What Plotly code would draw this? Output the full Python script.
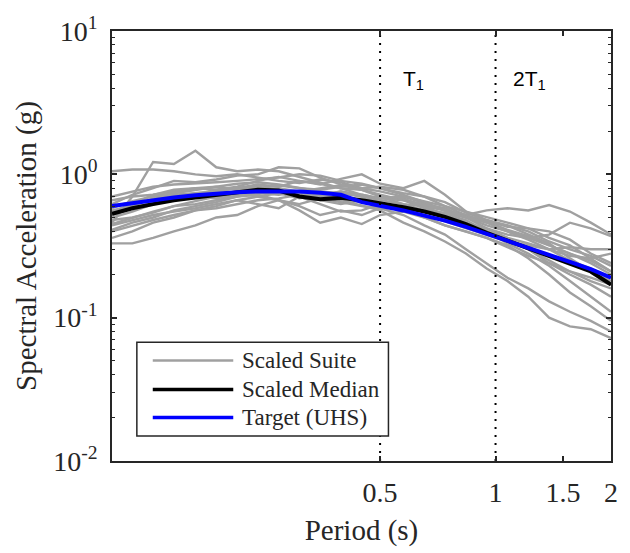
import plotly.graph_objects as go

# ---------------- data ----------------
periods = [0.100, 0.113, 0.128, 0.145, 0.165, 0.187, 0.212, 0.240, 0.272, 0.308,
           0.349, 0.395, 0.448, 0.500, 0.575, 0.652, 0.738, 0.837, 0.948, 1.074,
           1.217, 1.379, 1.563, 1.771, 2.000]

rec01 = [1.05, 1.08, 1.08, 1.05, 1.00, 0.97, 1.00, 0.95, 0.90, 0.87, 0.92, 0.88, 0.80, 0.76, 0.70, 0.63, 0.56, 0.52, 0.47, 0.41, 0.37, 0.32, 0.28, 0.25, 0.21]
rec02 = [0.46, 0.70, 1.22, 1.18, 1.46, 1.12, 1.05, 1.08, 1.05, 0.96, 0.88, 0.80, 0.78, 0.72, 0.66, 0.58, 0.53, 0.48, 0.40, 0.36, 0.33, 0.30, 0.25, 0.22, 0.19]
rec03 = [0.33, 0.33, 0.36, 0.40, 0.44, 0.50, 0.52, 0.60, 0.66, 0.62, 0.68, 0.64, 0.60, 0.58, 0.52, 0.44, 0.38, 0.30, 0.24, 0.19, 0.16, 0.13, 0.11, 0.095, 0.08]
rec04 = [0.62, 0.72, 0.80, 0.90, 0.88, 0.92, 0.98, 1.00, 1.12, 1.10, 0.95, 0.85, 0.80, 0.82, 0.78, 0.70, 0.60, 0.52, 0.46, 0.40, 0.36, 0.32, 0.28, 0.24, 0.20]
rec05 = [0.50, 0.55, 0.62, 0.70, 0.72, 0.78, 0.80, 0.85, 0.82, 0.90, 0.85, 0.93, 1.00, 0.86, 0.80, 0.90, 0.72, 0.55, 0.48, 0.43, 0.42, 0.40, 0.35, 0.28, 0.24]
rec06 = [0.44, 0.48, 0.52, 0.55, 0.58, 0.62, 0.66, 0.62, 0.58, 0.70, 0.62, 0.55, 0.56, 0.62, 0.58, 0.55, 0.50, 0.46, 0.42, 0.38, 0.36, 0.38, 0.46, 0.42, 0.37]
rec07 = [0.58, 0.65, 0.70, 0.74, 0.78, 0.82, 0.86, 0.88, 0.85, 0.80, 0.76, 0.74, 0.70, 0.66, 0.62, 0.60, 0.56, 0.52, 0.56, 0.58, 0.56, 0.61, 0.55, 0.46, 0.38]
rec08 = [0.41, 0.46, 0.50, 0.56, 0.60, 0.64, 0.70, 0.74, 0.72, 0.76, 0.80, 0.84, 0.78, 0.70, 0.62, 0.56, 0.54, 0.50, 0.44, 0.40, 0.35, 0.30, 0.27, 0.26, 0.28]
rec09 = [0.36, 0.40, 0.46, 0.50, 0.56, 0.60, 0.66, 0.70, 0.74, 0.68, 0.72, 0.76, 0.72, 0.68, 0.66, 0.62, 0.58, 0.50, 0.42, 0.36, 0.30, 0.24, 0.20, 0.17, 0.14]
rec10 = [0.66, 0.70, 0.72, 0.76, 0.80, 0.82, 0.78, 0.80, 0.84, 0.80, 0.78, 0.82, 0.85, 0.80, 0.72, 0.64, 0.56, 0.50, 0.46, 0.44, 0.40, 0.34, 0.30, 0.27, 0.23]
rec11 = [0.48, 0.50, 0.54, 0.60, 0.65, 0.70, 0.74, 0.70, 0.66, 0.60, 0.52, 0.56, 0.52, 0.58, 0.60, 0.62, 0.56, 0.46, 0.40, 0.33, 0.28, 0.23, 0.18, 0.14, 0.11]
rec12 = [0.56, 0.60, 0.68, 0.72, 0.74, 0.76, 0.74, 0.78, 0.80, 0.76, 0.72, 0.68, 0.64, 0.60, 0.56, 0.52, 0.47, 0.42, 0.38, 0.34, 0.32, 0.30, 0.31, 0.30, 0.30]
rec13 = [0.45, 0.50, 0.55, 0.60, 0.62, 0.66, 0.70, 0.72, 0.66, 0.56, 0.46, 0.50, 0.45, 0.52, 0.55, 0.50, 0.44, 0.40, 0.36, 0.31, 0.27, 0.24, 0.21, 0.18, 0.16]
rec14 = [0.52, 0.58, 0.64, 0.68, 0.70, 0.68, 0.72, 0.76, 0.78, 0.74, 0.66, 0.62, 0.66, 0.70, 0.68, 0.60, 0.52, 0.46, 0.40, 0.35, 0.30, 0.25, 0.21, 0.19, 0.17]
rec15 = [0.60, 0.64, 0.66, 0.70, 0.74, 0.76, 0.80, 0.82, 0.78, 0.74, 0.72, 0.66, 0.60, 0.56, 0.46, 0.40, 0.34, 0.28, 0.22, 0.18, 0.14, 0.10, 0.087, 0.083, 0.072]
rec16 = [0.70, 0.76, 0.82, 0.85, 0.86, 0.88, 0.90, 0.92, 0.95, 1.00, 0.98, 0.90, 0.86, 0.80, 0.74, 0.70, 0.64, 0.54, 0.48, 0.44, 0.38, 0.33, 0.26, 0.21, 0.18]
rec17 = [0.40, 0.44, 0.48, 0.52, 0.56, 0.58, 0.62, 0.66, 0.68, 0.72, 0.70, 0.76, 0.70, 0.64, 0.58, 0.50, 0.44, 0.40, 0.36, 0.32, 0.26, 0.20, 0.15, 0.12, 0.095]
rec18 = [0.55, 0.62, 0.72, 0.78, 0.80, 0.78, 0.82, 0.90, 0.96, 0.90, 0.86, 0.80, 0.72, 0.68, 0.70, 0.65, 0.60, 0.55, 0.50, 0.46, 0.42, 0.36, 0.32, 0.26, 0.21]

scaled_suite = [rec01, rec02, rec03, rec04, rec05, rec06, rec07, rec08, rec09,
                rec10, rec11, rec12, rec13, rec14, rec15, rec16, rec17, rec18]

scaled_median = [0.53, 0.58, 0.62, 0.66, 0.69, 0.72, 0.76, 0.78, 0.77, 0.70,
                 0.67, 0.685, 0.66, 0.63, 0.59, 0.55, 0.505, 0.45, 0.39, 0.345,
                 0.305, 0.27, 0.24, 0.21, 0.17]

target_uhs = [0.60, 0.63, 0.66, 0.69, 0.715, 0.735, 0.75, 0.76, 0.765, 0.76,
              0.745, 0.72, 0.64, 0.605, 0.56, 0.515, 0.475, 0.43, 0.385, 0.345,
              0.31, 0.275, 0.245, 0.218, 0.19]

period_markers = [0.5, 1.0]
marker_labels = ["T<sub>1</sub>", "2T<sub>1</sub>"]

x_tickvals = [0.5, 1, 1.5, 2]
x_ticktext = ["0.5", "1", "1.5", "2"]
y_tickvals = [0.01, 0.1, 1, 10]
y_ticktext = ["10<sup>-2</sup>", "10<sup>-1</sup>", "10<sup>0</sup>", "10<sup>1</sup>"]
legend_names = ["Scaled Suite", "Scaled Median", "Target (UHS)"]

# ---------------- styles ----------------
GRAY = "#a0a0a0"
INK = "#262626"
SERIF = "Liberation Serif, Times New Roman, serif"
SANS = "Liberation Sans, Arial, sans-serif"

fig = go.Figure()

for rec in scaled_suite:
    fig.add_trace(go.Scatter(x=periods, y=rec, mode="lines",
                             line=dict(color=GRAY, width=2.4), showlegend=False,
                             hoverinfo="skip"))

fig.add_trace(go.Scatter(x=periods, y=scaled_median, mode="lines",
                         line=dict(color="black", width=4), showlegend=False))
fig.add_trace(go.Scatter(x=periods, y=target_uhs, mode="lines",
                         line=dict(color="#0000ff", width=4), showlegend=False))

for p in period_markers:
    fig.add_trace(go.Scatter(x=[p, p], y=[0.01, 10], mode="lines",
                             line=dict(color="black", width=2, dash="2px,6px"),
                             showlegend=False, hoverinfo="skip"))

# minor log ticks
minor_vals = [m * 10 ** e for e in (-2, -1, 0) for m in range(2, 10)]

fig.update_layout(
    width=630, height=553,
    margin=dict(l=112, r=16, t=22, b=86),
    paper_bgcolor="white", plot_bgcolor="white",
    showlegend=False,
    xaxis=dict(type="log", range=[-1, 0.30103],
               tickmode="array", tickvals=x_tickvals, ticktext=x_ticktext,
               ticks="inside", ticklen=5, tickwidth=1.5, tickcolor=INK,
               showline=True, linecolor=INK, linewidth=1.5, mirror="ticks",
               showgrid=False, zeroline=False,
               tickfont=dict(family=SERIF, size=28, color=INK),
               ticklabelstandoff=6,
               title=dict(text="Period (s)", standoff=12,
                          font=dict(family=SERIF, size=29, color=INK))),
    yaxis=dict(type="log", range=[-2, 1],
               tickmode="array", tickvals=y_tickvals, ticktext=y_ticktext,
               ticks="inside", ticklen=5, tickwidth=1.5, tickcolor=INK,
               minor=dict(tickmode="array", tickvals=minor_vals, ticks="inside",
                          ticklen=3, tickwidth=1, tickcolor=INK),
               showline=True, linecolor=INK, linewidth=1.5, mirror="ticks",
               showgrid=False, zeroline=False,
               tickfont=dict(family=SERIF, size=28, color=INK),
               ticklabelstandoff=7,
               title=dict(text="Spectral Acceleration (g)", standoff=8,
                          font=dict(family=SERIF, size=29, color=INK))),
)

# T1 / 2T1 labels
fig.add_annotation(x=0.580, y=0.885, xref="paper", yref="paper", text=marker_labels[0],
                   showarrow=False, xanchor="left", yanchor="middle",
                   font=dict(family=SANS, size=21, color="black"))
fig.add_annotation(x=0.800, y=0.885, xref="paper", yref="paper", text=marker_labels[1],
                   showarrow=False, xanchor="left", yanchor="middle",
                   font=dict(family=SANS, size=21, color="black"))

# manual legend box (long line samples as in the original)
fig.add_shape(type="rect", xref="paper", yref="paper",
              x0=0.0498, x1=0.554, y0=0.0584, y1=0.2764,
              line=dict(color=INK, width=1.5), fillcolor="white", layer="above")
legend_colors = [GRAY, "black", "#0000ff"]
legend_widths = [2.5, 3.5, 3.5]
legend_rows = [0.2337, 0.1663, 0.1011]
for name, col, w, yr in zip(legend_names, legend_colors, legend_widths, legend_rows):
    fig.add_shape(type="line", xref="paper", yref="paper",
                  x0=0.0817, x1=0.243, y0=yr, y1=yr,
                  line=dict(color=col, width=w), layer="above")
    fig.add_annotation(x=0.257, y=yr, xref="paper", yref="paper", text=name,
                       showarrow=False, xanchor="left", yanchor="middle",
                       font=dict(family=SERIF, size=23, color=INK))

fig.write_html("out.html")
